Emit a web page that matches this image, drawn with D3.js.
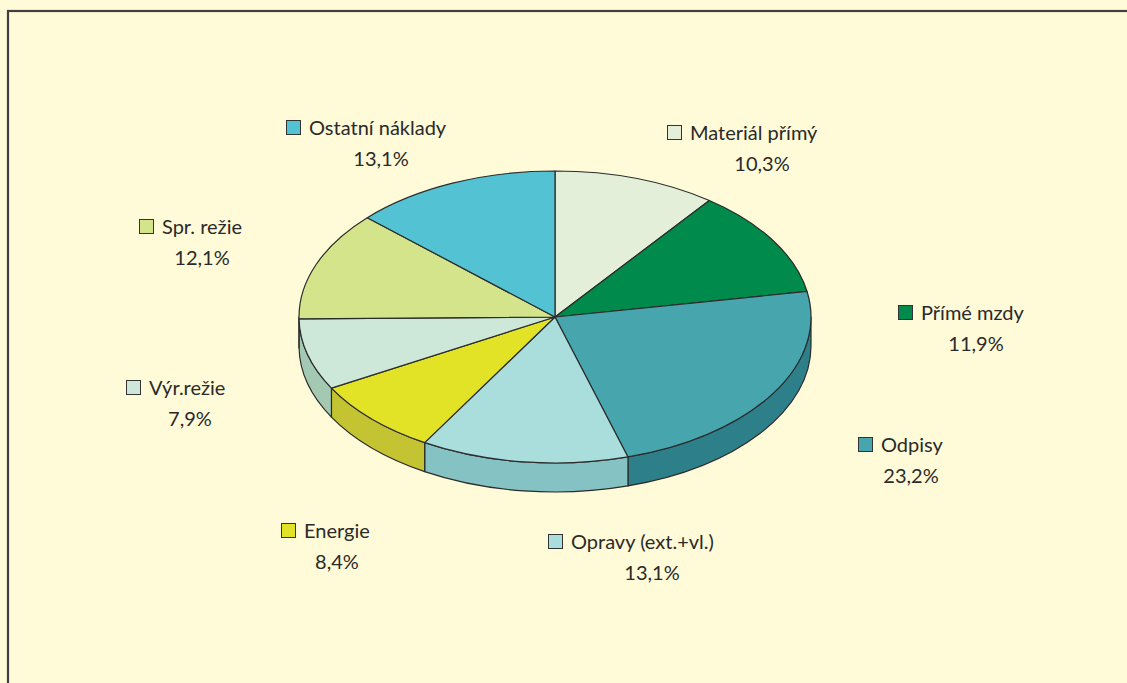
<!DOCTYPE html>
<html>
<head>
<meta charset="utf-8">
<script src="https://cdn.jsdelivr.net/npm/d3@7"></script>
<style>
  html, body { margin: 0; padding: 0; background: #fffad7; }
  svg { display: block; }
</style>
</head>
<body>
<div id="chart"></div>
<script>
// data
var categories = ["Materiál přímý", "Přímé mzdy", "Odpisy", "Opravy (ext.+vl.)", "Energie", "Výr.režie", "Spr. režie", "Ostatní náklady"];
var values = [10.3, 11.9, 23.2, 13.1, 8.4, 7.9, 12.1, 13.1];
var valueLabels = ["10,3%", "11,9%", "23,2%", "13,1%", "8,4%", "7,9%", "12,1%", "13,1%"];

// styles
var topColors = ["#e3efd9", "#008a4b", "#47a5ae", "#a9dedc", "#e2e327", "#cde8d8", "#d4e48a", "#53c3d3"];
var sideColors = ["#c3d2b8", "#006c3a", "#2d808a", "#85c2c3", "#c4c332", "#a4c9b3", "#b3c46c", "#3aa3b1"];
// legend box positions (square top-left) and percent text centre
var labelPos = [[667, 125, 762], [898, 305, 976], [858, 437, 911], [548, 534, 652],
                [281, 523, 337], [126, 380, 190], [139, 219, 202], [286, 120, 381]];

var width = 1127, height = 683;
var cx = 555, cy = 317, rx = 256, ry = 146, depth = 29;

var svg = d3.select("#chart").append("svg")
    .attr("width", width)
    .attr("height", height);

// frame
svg.append("rect")
    .attr("x", 8).attr("y", 11)
    .attr("width", 1200).attr("height", 800)
    .attr("fill", "#fffad7")
    .attr("stroke", "#404040")
    .attr("stroke-width", 2.2);

var pie = d3.pie().sort(null).startAngle(0).endAngle(2 * Math.PI);
var arcs = pie(values);

function pt(a, dy) {
    return [cx + rx * Math.sin(a), cy - ry * Math.cos(a) + (dy || 0)];
}

function topPath(d) {
    var p0 = pt(d.startAngle), p1 = pt(d.endAngle);
    var large = (d.endAngle - d.startAngle) > Math.PI ? 1 : 0;
    return "M" + cx + "," + cy + "L" + p0 + "A" + rx + "," + ry + " 0 " + large + " 1 " + p1 + "Z";
}

function sidePath(d) {
    var s = Math.max(d.startAngle, Math.PI / 2), e = Math.min(d.endAngle, 3 * Math.PI / 2);
    if (e <= s) return null;
    var p0 = pt(s), p1 = pt(e), q1 = pt(e, depth), q0 = pt(s, depth);
    return "M" + p0 + "A" + rx + "," + ry + " 0 0 1 " + p1 + "L" + q1 +
        "A" + rx + "," + ry + " 0 0 0 " + q0 + "Z";
}

var g = svg.append("g");

// sides
g.selectAll(".side")
    .data(arcs.filter(function (d) { return sidePath(d) !== null; }))
    .enter().append("path")
    .attr("class", "side")
    .attr("d", sidePath)
    .attr("fill", function (d) { return sideColors[d.index]; })
    .attr("stroke", "#2b2b2b")
    .attr("stroke-width", 1.2)
    .attr("stroke-linejoin", "round");

// tops
g.selectAll(".top")
    .data(arcs)
    .enter().append("path")
    .attr("class", "top")
    .attr("d", topPath)
    .attr("fill", function (d) { return topColors[d.index]; })
    .attr("stroke", "#2b2b2b")
    .attr("stroke-width", 1.2)
    .attr("stroke-linejoin", "round");

// labels
var lab = svg.selectAll(".lab")
    .data(arcs)
    .enter().append("g")
    .attr("class", "lab");

lab.append("rect")
    .attr("x", function (d) { return labelPos[d.index][0] + 0.5; })
    .attr("y", function (d) { return labelPos[d.index][1] + 0.5; })
    .attr("width", 14).attr("height", 14)
    .attr("fill", function (d) { return topColors[d.index]; })
    .attr("stroke", "#333")
    .attr("stroke-width", 1);

lab.append("text")
    .attr("x", function (d) { return labelPos[d.index][0] + 23; })
    .attr("y", function (d) { return labelPos[d.index][1] + 15; })
    .attr("font-family", "Lato, 'Open Sans', sans-serif")
    .attr("font-size", 20)
    .attr("fill", "#2a2a2a")
    .text(function (d) { return categories[d.index]; });

lab.append("text")
    .attr("x", function (d) { return labelPos[d.index][2]; })
    .attr("y", function (d) { return labelPos[d.index][1] + 46; })
    .attr("text-anchor", "middle")
    .attr("font-family", "Lato, 'Open Sans', sans-serif")
    .attr("font-size", 20)
    .attr("fill", "#2a2a2a")
    .text(function (d) { return valueLabels[d.index]; });
</script>
</body>
</html>
